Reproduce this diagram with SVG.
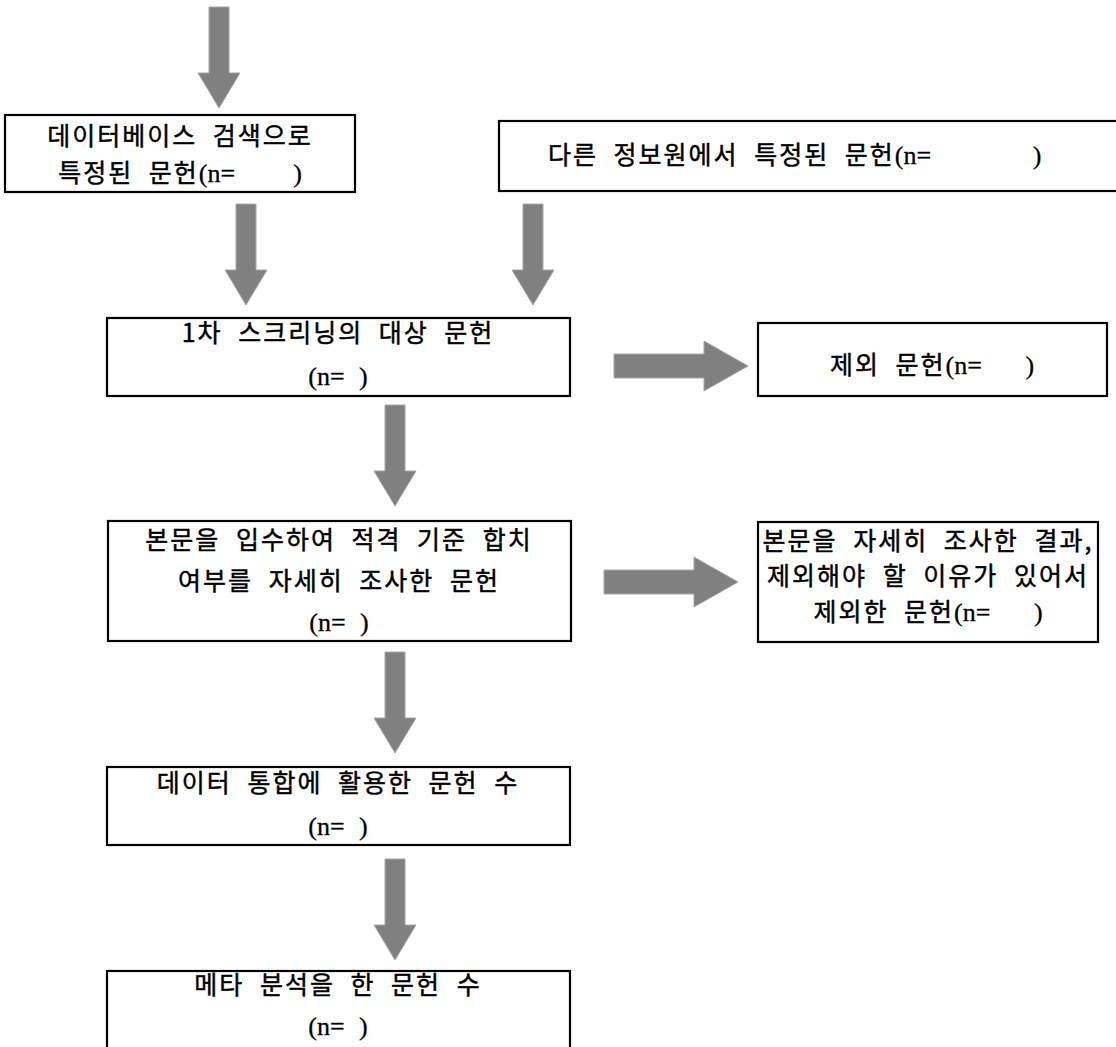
<svg xmlns="http://www.w3.org/2000/svg" width="1116" height="1047" viewBox="0 0 1116 1047">
<style>
.box{fill:#fff;stroke:#000;stroke-width:2.2}
.t{font-family:"Noto Sans CJK KR","Noto Sans",sans-serif;font-size:25px;font-weight:400;letter-spacing:2px;word-spacing:8px;fill:#000;stroke:#000;stroke-width:0.45px;text-anchor:middle}
.s{text-anchor:start}
.l{font-family:"Liberation Serif",serif;font-size:26px;letter-spacing:0;stroke-width:0.3px}
.arr{fill:#808080;stroke:#a6a6a6;stroke-width:1}
</style>
<defs>
<path id="down" d="M -10 0 H 10 V 66 H 21 L 0 101 L -21 66 H -10 Z"/>
<path id="right" d="M 0 -12 H 90 V -25 L 134 0 L 90 25 V 12 H 0 Z"/>
</defs>
<rect width="1116" height="1047" fill="#fff"/>
<g id="connectors">
<use href="#down" class="arr" x="219" y="7"/>
<use href="#down" class="arr" x="246" y="204"/>
<use href="#down" class="arr" x="533" y="204"/>
<use href="#down" class="arr" x="395" y="405"/>
<use href="#down" class="arr" x="395" y="652"/>
<use href="#down" class="arr" x="395" y="859"/>
<use href="#right" class="arr" x="614" y="366"/>
<use href="#right" class="arr" x="604" y="582"/>
</g>
<g id="db">
<rect class="box" x="5" y="115" width="350" height="77"/>
<text class="t" x="180" y="145">데이터베이스 검색으로</text>
<text class="t" x="180" y="182" xml:space="preserve">특정된 문헌<tspan class="l">(n=    )</tspan></text>
</g>
<g id="other">
<rect class="box" x="499" y="121" width="630" height="70"/>
<text class="t s" x="548" y="164" xml:space="preserve">다른 정보원에서 특정된 문헌<tspan class="l">(n=       )</tspan></text>
</g>
<g id="screen">
<rect class="box" x="107" y="318" width="463" height="78"/>
<text class="t" x="338" y="342">1차 스크리닝의 대상 문헌</text>
<text class="t l" x="338" y="385">(n= )</text>
</g>
<g id="excluded">
<rect class="box" x="758" y="323" width="349" height="73"/>
<text class="t" x="932" y="374" xml:space="preserve">제외 문헌<tspan class="l">(n=   )</tspan></text>
</g>
<g id="fulltext">
<rect class="box" x="108" y="521" width="463" height="120"/>
<text class="t" x="339" y="549">본문을 입수하여 적격 기준 합치</text>
<text class="t" x="339" y="590">여부를 자세히 조사한 문헌</text>
<text class="t l" x="339" y="631">(n= )</text>
</g>
<g id="fulltext-excluded">
<rect class="box" x="758" y="522" width="340" height="120"/>
<text class="t" x="928" y="550">본문을 자세히 조사한 결과,</text>
<text class="t" x="928" y="585">제외해야 할 이유가 있어서</text>
<text class="t" x="928" y="621" xml:space="preserve">제외한 문헌<tspan class="l">(n=   )</tspan></text>
</g>
<g id="synthesis">
<rect class="box" x="107" y="767" width="463" height="78"/>
<text class="t" x="338" y="792">데이터 통합에 활용한 문헌 수</text>
<text class="t l" x="338" y="835">(n= )</text>
</g>
<g id="meta">
<rect class="box" x="107" y="971" width="463" height="90"/>
<text class="t" x="338" y="994">메타 분석을 한 문헌 수</text>
<text class="t l" x="338" y="1035">(n= )</text>
</g>
</svg>
